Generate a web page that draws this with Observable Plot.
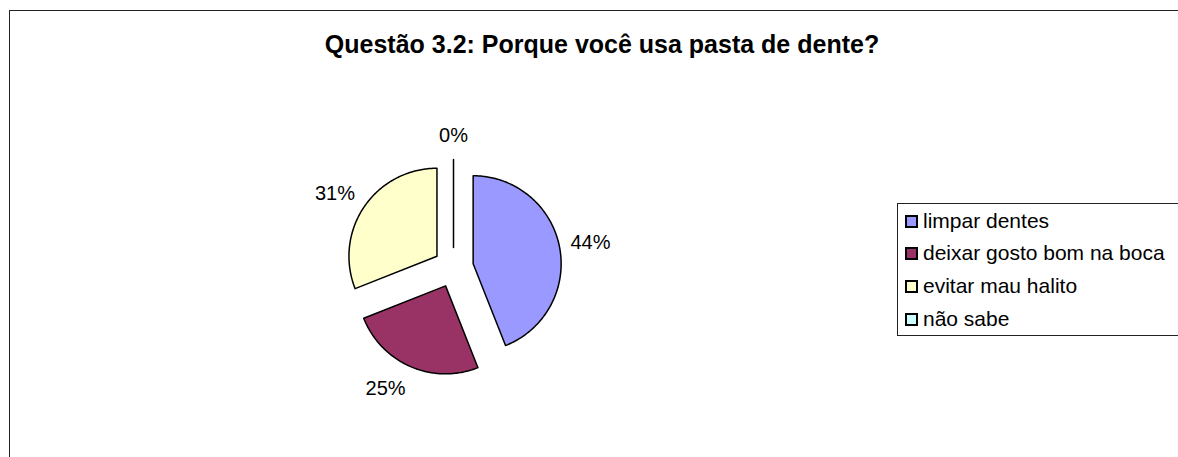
<!DOCTYPE html>
<html><head><meta charset="utf-8">
<script src="https://cdn.jsdelivr.net/npm/d3@7"></script>
<script src="https://cdn.jsdelivr.net/npm/@observablehq/plot@0.6"></script>
<style>
body{margin:0;background:#fff;font-family:"Liberation Sans",Arial,sans-serif;}
#wrap{position:relative;width:1178px;height:457px;overflow:hidden;background:#fff;}
#border{position:absolute;left:9px;top:10px;width:1300px;height:600px;border-left:1.5px solid #222;border-top:1.5px solid #222;}
#chart{position:absolute;left:0;top:0;}
#title{position:absolute;left:9px;width:1186px;top:32px;text-align:center;font-weight:bold;font-size:25px;line-height:25px;color:#000;}
#legend{position:absolute;left:897px;top:203px;width:400px;height:131px;border:1.5px solid #222;background:#fff;}
.row{position:absolute;left:7px;height:24px;display:flex;align-items:center;font-size:21px;color:#000;white-space:nowrap;}
.sw{width:9px;height:9px;border:2px solid #000;margin-right:5px;flex:none;}
</style></head>
<body>
<div id="wrap">
  <div id="border"></div>
  <div id="chart"></div>
  <div id="title"></div>
  <div id="legend"></div>
</div>
<script>
const titleText = "Questão 3.2: Porque você usa pasta de dente?";
const categories = ["limpar dentes", "deixar gosto bom na boca", "evitar mau halito", "não sabe"];
const values = [44, 25, 31, 0];
const valueLabels = ["44%", "25%", "31%", "0%"];
const colors = ["#9999FF", "#993366", "#FFFFCC", "#CCFFFF"];

// layout (pixels)
const W = 1178, H = 457;
const cx = 453, cy = 267, R = 88, explode = 20;
const labelGap = 10, labelHW = 21, labelHH = 14;

const data = categories.map((c, i) => ({cat: c, value: values[i], label: valueLabels[i]}));
const arcs = d3.pie().sort(null).value(d => d.value)(data);

const pts = [];
const labelPts = [];
for (const a of arcs) {
  const mid = (a.startAngle + a.endAngle) / 2;
  const ux = Math.sin(mid), uy = -Math.cos(mid);
  const ax = cx + ux * explode, ay = cy + uy * explode;
  pts.push({cat: a.data.cat, x: ax, y: ay});
  const n = Math.max(1, Math.ceil((a.endAngle - a.startAngle) / 0.015));
  for (let k = 0; k <= n; k++) {
    const t = a.startAngle + (a.endAngle - a.startAngle) * k / n;
    pts.push({cat: a.data.cat, x: ax + R * Math.sin(t), y: ay - R * Math.cos(t)});
  }
  const sx = Math.abs(ux) < 0.1 ? 0 : Math.sign(ux);
  labelPts.push({
    text: a.data.label,
    x: ax + ux * (R + labelGap) + sx * labelHW,
    y: ay + uy * (R + labelGap) + uy * labelHH
  });
}

const chart = Plot.plot({
  width: W, height: H, margin: 0,
  x: {domain: [0, W], range: [0, W], axis: null},
  y: {domain: [0, H], range: [0, H], axis: null},
  color: {domain: categories, range: colors},
  style: {fontFamily: "'Liberation Sans', Arial, sans-serif", background: "transparent"},
  marks: [
    Plot.line(pts, {x: "x", y: "y", z: "cat", fill: "cat", stroke: "#000", strokeWidth: 1.5, curve: "linear-closed", strokeLinejoin: "round"}),
    Plot.text(labelPts, {x: "x", y: "y", text: "text", fontSize: 20, fill: "#000", textAnchor: "middle", lineAnchor: "middle"})
  ]
});
document.getElementById("chart").appendChild(chart);
document.getElementById("title").textContent = titleText;

const legend = document.getElementById("legend");
const rowCenters = [17, 49, 82, 115];
categories.forEach((c, i) => {
  const row = document.createElement("div");
  row.className = "row";
  row.style.top = (rowCenters[i] - 12) + "px";
  const sw = document.createElement("div");
  sw.className = "sw";
  sw.style.background = colors[i];
  const tx = document.createElement("span");
  tx.textContent = c;
  row.appendChild(sw); row.appendChild(tx);
  legend.appendChild(row);
});
</script>
</body></html>
